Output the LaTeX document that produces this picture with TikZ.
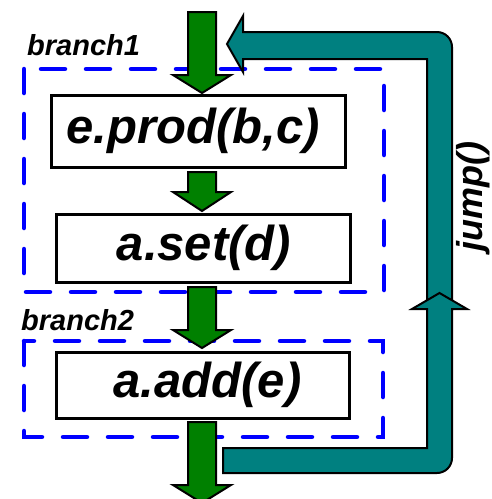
\documentclass[tikz,border=0pt]{standalone}
\usepackage{fontspec}
\setmainfont{Liberation Sans}
\definecolor{flowgreen}{HTML}{008000}
\definecolor{loopteal}{HTML}{008080}
\definecolor{groupblue}{HTML}{0000FF}
\tikzset{
  stmt/.style={draw=black, line width=3pt, fill=white, inner sep=0pt},
  stmttext/.style={inner sep=0pt,
    font=\fontsize{49}{55}\selectfont\bfseries\itshape},
  group/.style={draw=groupblue, line width=4.5pt, line cap=round,
    dash pattern=on 24pt off 21pt},
  grouplabel/.style={anchor=base west, inner sep=0pt,
    font=\fontsize{29}{33}\selectfont\bfseries\itshape},
  flowarrow/.style={draw=black, line width=2pt, fill=flowgreen, line join=miter},
  looparrow/.style={draw=black, line width=2pt, fill=loopteal, line join=miter},
}
% vertical block arrow: top of shaft, start of head, tip
\newcommand\flowdown[3]{%
  \draw[flowarrow] (188,#1) -- (216,#1) -- (216,#2) -- (231,#2) -- (202,#3)
    -- (173,#2) -- (188,#2) -- cycle;}
\begin{document}
\begin{tikzpicture}[x=1pt, y=-1pt]
\useasboundingbox (0,0) rectangle (492,499);

% dashed groups
\draw[group] (24,69) rectangle (384,292);
\draw[group] (24,341) rectangle (383,437);
\node[grouplabel] (lb1) at (27,55) {branch1};
\node[grouplabel] (lb2) at (21,330) {branch2};

% statements
\node[stmt, minimum width=294pt, minimum height=72pt] (prod) at (198,131) {};
\node[stmt, minimum width=294pt, minimum height=68pt] (set) at (203,248) {};
\node[stmt, minimum width=293pt, minimum height=66pt] (add) at (202.5,385) {};
\node[stmttext] (prodtxt) at ([xshift=-5pt]prod.center) {e.prod(b,c)};
\node[stmttext] (settxt) at ([xshift=1pt]set.center) {a.set(d)};
\node[stmttext] (addtxt) at ([xshift=5pt]add.center) {a.add(e)};

% sequential flow
\flowdown{12}{75}{93}
\flowdown{172}{192}{211}
\flowdown{287}{330}{348}
\flowdown{422}{485}{503}

% loop back: upper part with head at the top entry
\draw[looparrow] (427,305) -- (427,59) -- (243,59) -- (243,72) -- (227,44)
  -- (243,16) -- (243,32) -- (437,32) .. controls (445.3,32) and (452,38.7) .. (452,47)
  -- (452,305) -- cycle;
% loop back: lower part from the exit, head pointing up
\draw[looparrow] (223,448) -- (427,448) -- (427,309) -- (412,309) -- (439.5,293)
  -- (467,309) -- (452,309) -- (452,458) .. controls (452,466.3) and (445.3,473) .. (437,473)
  -- (223,473) -- cycle;

\node[rotate=90, inner sep=0pt, font=\fontsize{36}{40}\selectfont\bfseries\itshape]
  (jmp) at (473.5,197) {jump()};
\end{tikzpicture}
\end{document}
